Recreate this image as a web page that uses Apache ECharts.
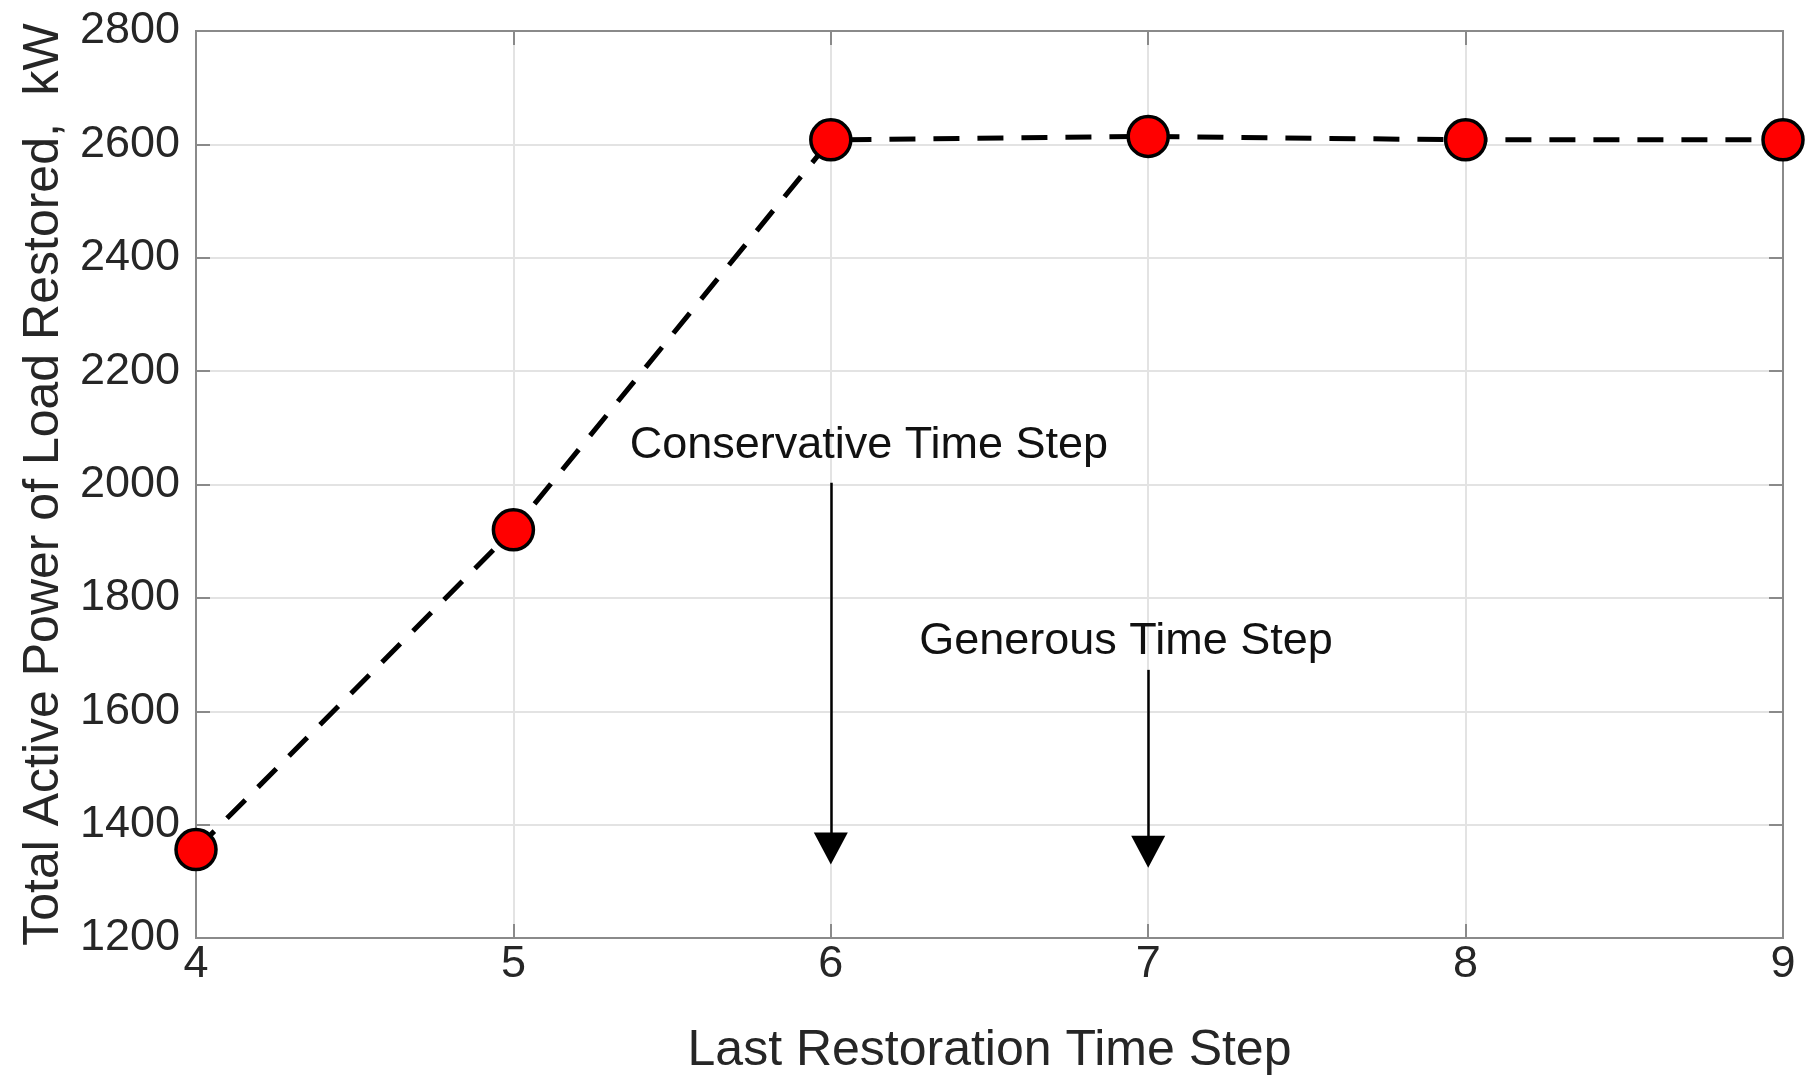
<!DOCTYPE html>
<html>
<head>
<meta charset="utf-8">
<script src="https://cdn.jsdelivr.net/npm/echarts@6/dist/echarts.min.js"></script>
<style>
html,body{margin:0;padding:0;background:#fff;}
#chart{width:1806px;height:1089px;}
</style>
</head>
<body>
<div id="chart"></div>
<script>
// ---- data ----
var timeSteps = [4, 5, 6, 7, 8, 9];
var restoredKW = [1356, 1920, 2608, 2614, 2608, 2608];
var yTicks = [1200, 1400, 1600, 1800, 2000, 2200, 2400, 2600, 2800];
var xTicks = [4, 5, 6, 7, 8, 9];
var arrowNames = ['Conservative Time Step', 'Generous Time Step'];
var arrowX = [6, 7];
var arrowFrom = [2003, 1673];
var arrowTo = [1358, 1352];
var labelX = [6.12, 6.93];
var labelY = [2068, 1722];

var FONT = '"Liberation Sans", Arial, sans-serif';
var TXT = '#262626';
var AX = '#8a8a8a';

var points = timeSteps.map(function (t, i) { return [t, restoredKW[i]]; });
var markLines = arrowX.map(function (x, i) {
  return [{ coord: [x, arrowFrom[i]] }, { coord: [x, arrowTo[i]] }];
});
var markPts = arrowNames.map(function (n, i) {
  return { name: n, coord: [labelX[i], labelY[i]], value: n };
});

var chart = echarts.init(document.getElementById('chart'));
chart.setOption({
  animation: false,
  backgroundColor: '#ffffff',
  grid: { left: 196, right: 23, top: 31, bottom: 151, show: true, borderColor: AX, borderWidth: 2, backgroundColor: 'transparent' },
  xAxis: [{
    type: 'value', min: xTicks[0], max: xTicks[xTicks.length - 1], interval: 1,
    name: 'Last Restoration Time Step', nameLocation: 'middle', nameGap: 88,
    nameTextStyle: { fontFamily: FONT, fontSize: 50, color: TXT },
    axisLine: { show: true, onZero: false, lineStyle: { color: AX, width: 2 } },
    axisTick: { show: true, inside: true, length: 14, lineStyle: { color: AX, width: 2 } },
    axisLabel: { fontFamily: FONT, fontSize: 45, color: TXT, margin: 4 },
    splitLine: { show: true, lineStyle: { color: '#e3e3e3', width: 2 } }
  }, {
    type: 'value', position: 'top', min: xTicks[0], max: xTicks[xTicks.length - 1], interval: 1,
    axisLine: { show: true, onZero: false, lineStyle: { color: AX, width: 2 } },
    axisTick: { show: true, inside: true, length: 14, lineStyle: { color: AX, width: 2 } },
    axisLabel: { show: false }, splitLine: { show: false }
  }],
  yAxis: [{
    type: 'value', min: yTicks[0], max: yTicks[yTicks.length - 1], interval: 200,
    name: 'Total Active Power of Load Restored,  kW', nameLocation: 'middle', nameGap: 125,
    nameTextStyle: { fontFamily: FONT, fontSize: 50, color: TXT },
    axisLine: { show: true, onZero: false, lineStyle: { color: AX, width: 2 } },
    axisTick: { show: true, inside: true, length: 14, lineStyle: { color: AX, width: 2 } },
    axisLabel: { fontFamily: FONT, fontSize: 45, color: TXT, margin: 16, formatter: function (v) { return String(v); } },
    splitLine: { show: true, lineStyle: { color: '#e3e3e3', width: 2 } }
  }, {
    type: 'value', position: 'right', min: yTicks[0], max: yTicks[yTicks.length - 1], interval: 200,
    axisLine: { show: true, onZero: false, lineStyle: { color: AX, width: 2 } },
    axisTick: { show: true, inside: true, length: 14, lineStyle: { color: AX, width: 2 } },
    axisLabel: { show: false }, splitLine: { show: false }
  }],
  series: [{
    type: 'line',
    data: points,
    symbol: 'circle',
    symbolSize: 40,
    z: 5,
    lineStyle: { color: '#000', width: 5, type: [26, 18] },
    itemStyle: { color: '#ff0000', borderColor: '#000', borderWidth: 3.5 },
    markLine: {
      silent: true,
      symbol: ['none', 'triangle'],
      symbolSize: [34, 32],
      label: { show: false },
      lineStyle: { color: '#000', width: 2.5, type: 'solid' },
      data: markLines
    },
    markPoint: {
      silent: true,
      symbol: 'circle',
      symbolSize: 0,
      label: {
        show: true, position: 'inside', formatter: '{b}',
        fontFamily: FONT, fontSize: 45, color: '#111'
      },
      data: markPts
    }
  }]
});
</script>
</body>
</html>
